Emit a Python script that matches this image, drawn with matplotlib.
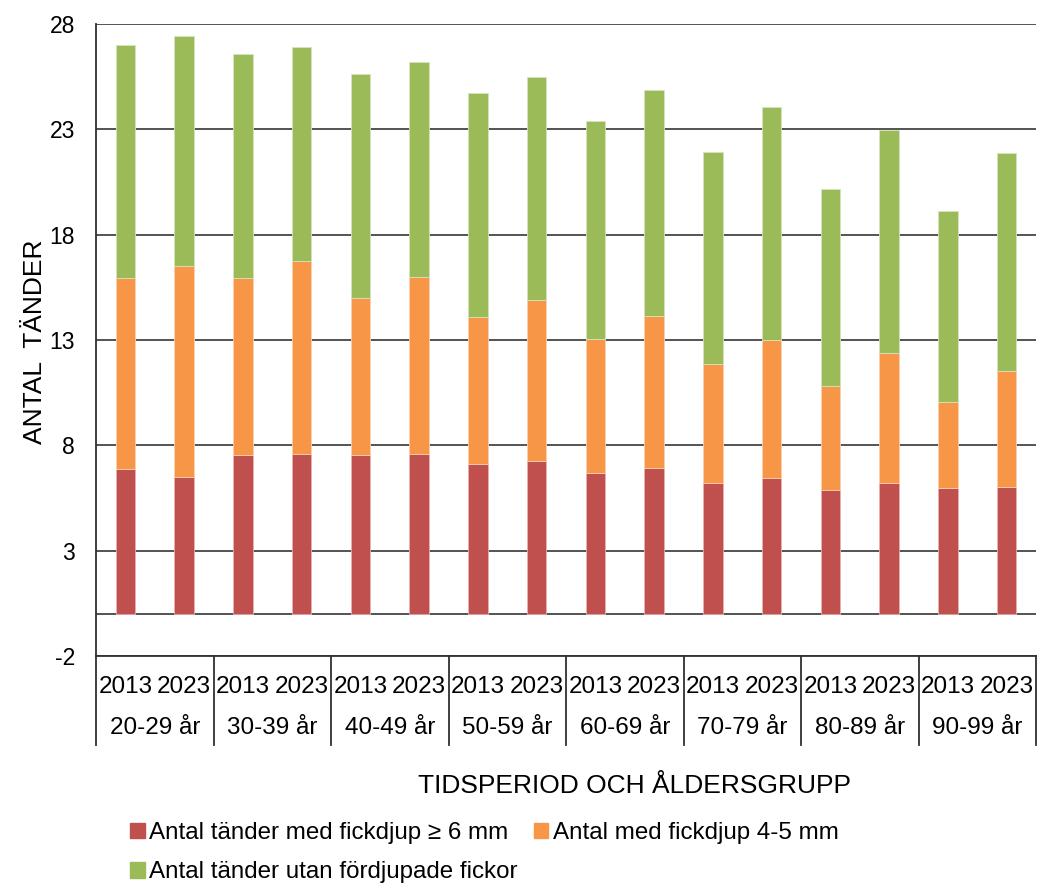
import matplotlib
matplotlib.use("Agg")
import matplotlib.pyplot as plt
from matplotlib.patches import Patch
import numpy as np

plt.rcParams['font.family'] = ['Liberation Sans', 'DejaVu Sans']
plt.rcParams['axes.unicode_minus'] = False

age_groups = ["20-29 år", "30-39 år", "40-49 år", "50-59 år",
              "60-69 år", "70-79 år", "80-89 år", "90-99 år"]
years = ["2013", "2023"]

# cumulative tops (per bar, 2013/2023 alternating)
red_vals = [6.88, 6.52, 7.54, 7.60, 7.54, 7.60, 7.13, 7.24,
            6.69, 6.94, 6.20, 6.45, 5.90, 6.20, 5.96, 6.02]
orange_top = [15.92, 16.50, 15.96, 16.75, 14.99, 16.01, 14.09, 14.88,
              13.05, 14.14, 11.85, 13.00, 10.81, 12.38, 10.07, 11.55]
green_top = [26.99, 27.42, 26.56, 26.93, 25.64, 26.20, 24.74, 25.48,
             23.41, 24.86, 21.94, 24.07, 20.19, 22.95, 19.10, 21.90]

red = np.array(red_vals)
orange = np.array(orange_top) - red
green = np.array(green_top) - np.array(orange_top)

labels = ["Antal tänder med fickdjup ≥ 6 mm", "Antal med fickdjup 4-5 mm",
          "Antal tänder utan fördjupade fickor"]
colors = ["#C0504D", "#F79646", "#9BBB59"]

fig = plt.figure(figsize=(10.38, 8.85), dpi=100)
ax = fig.add_axes([96/1038, 1-656/885, 940/1038, 632/885])

x = np.arange(len(red))
w = 0.33
ax.bar(x, red, w, color=colors[0], edgecolor="#e8b0ae", linewidth=0.6, zorder=3)
ax.bar(x, orange, w, bottom=red, color=colors[1], edgecolor="#fbd0b0", linewidth=0.6, zorder=3)
ax.bar(x, green, w, bottom=red + orange, color=colors[2], edgecolor="#d5e4bd", linewidth=0.6, zorder=3)

ax.set_xlim(-0.5, len(red) - 0.5)
ax.set_ylim(-2, 28)
ax.set_yticks(np.arange(-2, 29, 5))
ax.tick_params(axis='y', length=0, pad=15, labelsize=16.5)
ax.tick_params(axis='x', length=0, labelbottom=False)
ax.yaxis.grid(True, color="#454545", linewidth=1.3, zorder=1)
ax.axhline(0, color="#454545", linewidth=1.3, zorder=2)

for s in ["top", "right"]:
    ax.spines[s].set_visible(False)
ax.spines["left"].set_color("#303030")
ax.spines["bottom"].set_color("#303030")
ax.spines["left"].set_linewidth(1.3)
ax.spines["bottom"].set_linewidth(1.3)

trans = ax.get_xaxis_transform()
tab_bottom = -89 / 632
for b in np.arange(-0.5, len(red), 2):
    ax.plot([b, b], [0, tab_bottom], transform=trans, color="#303030",
            linewidth=1.3, clip_on=False)

for i in range(len(red)):
    ax.text(x[i], -31 / 632, years[i % 2], transform=trans, ha="center",
            va="center", fontsize=17.5)
for g, name in enumerate(age_groups):
    ax.text(2 * g + 0.5, -72 / 632, name, transform=trans, ha="center",
            va="center", fontsize=17.5)

fig.text(35 / 1038, 1 - 342 / 885, "ANTAL  TÄNDER", rotation=90,
         ha="center", va="center", fontsize=19)
fig.text(635 / 1038, 1 - 786 / 885, "TIDSPERIOD OCH ÅLDERSGRUPP",
         ha="center", va="center", fontsize=19)

handles = [Patch(color=c) for c in colors]
order = [0, 2, 1]
fig.legend([handles[i] for i in order], [labels[i] for i in order],
           ncol=2, loc="upper left", bbox_to_anchor=(130 / 1038, 1 - 822 / 885),
           frameon=False, fontsize=17.4, handlelength=0.6, handleheight=0.6,
           handletextpad=0.2, columnspacing=0.65, labelspacing=0.72,
           borderpad=0, borderaxespad=0)

fig.savefig("out.png", dpi=100)
